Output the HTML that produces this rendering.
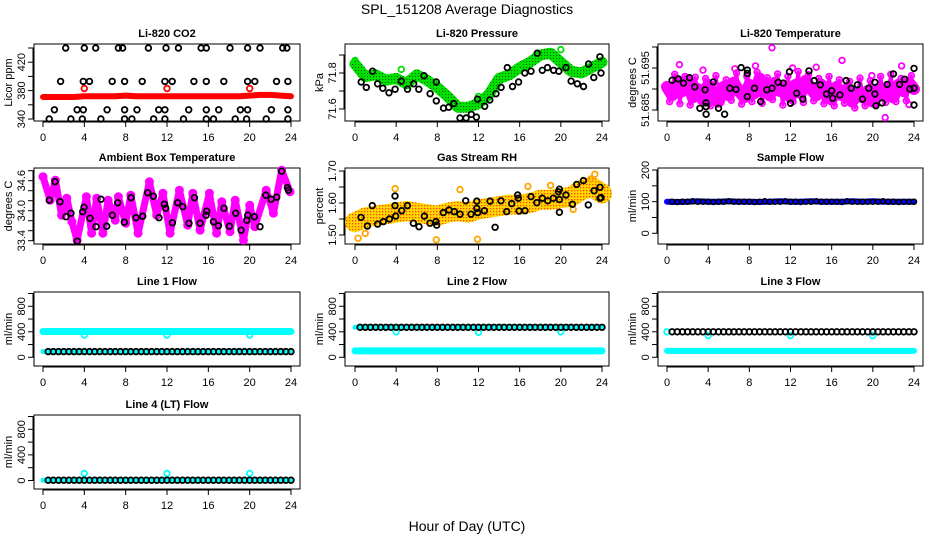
<!DOCTYPE html>
<html><head><meta charset="utf-8">
<style>
html,body{margin:0;padding:0;background:#fff;}
svg{display:block;font-family:"Liberation Sans",Arial,sans-serif;}
</style></head>
<body>
<svg id="chart" width="936" height="540" viewBox="0 0 936 540" xmlns="http://www.w3.org/2000/svg">
<defs>
<pattern id="rhpat" width="3" height="3" patternUnits="userSpaceOnUse">
<rect width="3" height="3" fill="#ffd700"/><rect x="1" y="1" width="1.3" height="1.3" fill="#ff4500"/>
</pattern>
<pattern id="grpat" width="3" height="3" patternUnits="userSpaceOnUse">
<rect width="3" height="3" fill="#00e000"/><rect x="1" y="1" width="1" height="1" fill="#006000"/>
</pattern>
</defs>
<text x="467" y="14" font-size="14" text-anchor="middle">SPL_151208  Average Diagnostics</text>
<text x="467" y="531" font-size="14" text-anchor="middle">Hour of Day (UTC)</text>
</svg>
<script>
// ---------- data ----------
const HOURS=[0,1,2,3,4,5,6,7,8,9,10,11,12,13,14,15,16,17,18,19,20,21,22,23,24];
const HALF_HOURS=[0,0.5,1,1.5,2,2.5,3,3.5,4,4.5,5,5.5,6,6.5,7,7.5,8,8.5,9,9.5,10,10.5,11,11.5,12,12.5,13,13.5,14,14.5,15,15.5,16,16.5,17,17.5,18,18.5,19,19.5,20,20.5,21,21.5,22,22.5,23,23.5,24];
const QUARTER_HOURS=[0.25,0.75,1.25,1.75,2.25,2.75,3.25,3.75,4.25,4.75,5.25,5.75,6.25,6.75,7.25,7.75,8.25,8.75,9.25,9.75,10.25,10.75,11.25,11.75,12.25,12.75,13.25,13.75,14.25,14.75,15.25,15.75,16.25,16.75,17.25,17.75,18.25,18.75,19.25,19.75,20.25,20.75,21.25,21.75,22.25,22.75,23.25,23.75];
const X_TICKS=[0,4,8,12,16,20,24];

const co2Red=[371,371,371,371,372,372,372,372,373,372,372,372,372,372,372,372,372,372,372,372,373,374,374,373,372];
const co2OutT=[4,12,20];
const co2OutV=[383,383,383];
const co2BlackT=[2.2,4.0,5.1,7.3,7.7,10.2,11.9,13.1,15.3,15.8,18.1,19.8,21.0,23.2,23.6,
 1.7,3.9,4.5,6.7,7.9,9.6,11.8,12.5,14.6,15.8,17.5,19.8,20.5,22.6,23.7,
 1.1,3.3,3.9,6.2,7.9,9.1,11.2,11.8,14.1,15.8,17.0,19.1,19.8,22.1,23.7,
 0.6,2.7,3.8,5.6,7.9,8.6,10.7,11.8,13.6,15.8,16.5,18.6,19.7,21.6,23.7];
const co2BlackV=[440,440,440,440,440,440,440,440,440,440,440,440,440,440,440,
 393,393,393,393,393,393,393,393,393,393,393,393,393,393,393,
 353,353,353,353,353,353,353,353,353,353,353,353,353,353,353,
 340,340,340,340,340,340,340,340,340,340,340,340,340,340,340];

const presGreen=[71.85,71.78,71.79,71.76,71.77,71.74,71.79,71.76,71.72,71.67,71.61,71.61,71.63,71.68,71.77,71.79,71.83,71.86,71.90,71.91,71.86,71.81,71.80,71.83,71.86];
const presBlackT=[0.6,1.1,1.7,2.2,2.7,3.3,3.9,4.5,5.1,5.7,6.2,6.7,7.3,7.9,7.9,8.6,9.1,9.6,10.2,10.8,11.3,11.8,11.9,12.6,13.1,13.7,14.2,14.8,15.3,15.9,16.5,17.1,17.7,18.2,18.7,19.3,19.8,20.5,21.0,21.6,22.2,22.7,23.2,23.8,23.9];
const presBlackV=[71.75,71.72,71.81,71.74,71.715,71.69,71.71,71.755,71.71,71.74,71.71,71.785,71.685,71.75,71.645,71.605,71.61,71.63,71.55,71.55,71.57,71.555,71.655,71.615,71.65,71.685,71.72,71.83,71.725,71.75,71.80,71.81,71.91,71.815,71.83,71.815,71.81,71.83,71.755,71.74,71.725,71.85,71.775,71.89,71.80];

const tempMag=[51.6905,51.6885,51.6915,51.6895,51.6920,51.6880,51.6900,51.6875,51.6910,51.6890,51.6870,51.6905,51.6885,51.6915,51.6895,51.6880,51.6910,51.6890,51.6925,51.6900,51.6885,51.6915,51.6895,51.6905,51.6880,51.6910,51.6890,51.6920,51.6900,51.6885,51.6910,51.6895,51.6875,51.6905,51.6885,51.6900,51.6870,51.6890,51.6880,51.6895,51.6870,51.6900,51.6885,51.6905,51.6880,51.6910,51.6895,51.6915,51.6900];
const tempMag2=[51.6870,51.6935,51.6865,51.6930,51.6862,51.6928,51.6872,51.6925,51.6860,51.6932,51.6868,51.6922,51.6873,51.6938,51.6864,51.6930,51.6870,51.6940,51.6866,51.6927,51.6875,51.6936,51.6862,51.6930,51.6870,51.6942,51.6868,51.6934,51.6872,51.6925,51.6865,51.6930,51.6860,51.6922,51.6866,51.6918,51.6855,51.6926,51.6860,51.6920,51.6864,51.6930,51.6868,51.6935,51.6870,51.6925,51.6872,51.6932];
const tempMagOutT=[1.2,3.5,6.6,8.6,10.2,12.2,14.5,17.0,19.9,21.2,22.8,23.5];
const tempMagOutV=[51.6958,51.6945,51.6948,51.6955,51.6998,51.6950,51.6952,51.6968,51.6932,51.6832,51.6955,51.6863];
const tempBlackT=[0.5,1.1,1.6,2.2,2.7,3.2,3.7,3.8,3.8,3.8,4.5,5.0,5.6,6.1,6.7,7.2,7.8,7.8,7.8,8.5,9.1,9.7,10.2,10.8,11.3,11.9,12.0,12.6,13.2,13.8,14.3,14.9,15.5,16.0,16.1,16.8,17.4,17.9,18.5,19.0,19.6,20.2,20.2,20.3,20.9,21.4,22.0,22.6,23.1,23.6,24.0,24.0,24.0];
const tempBlackV=[51.6921,51.6924,51.6914,51.6927,51.6905,51.6854,51.6898,51.6867,51.6858,51.6840,51.6917,51.6854,51.6840,51.6902,51.6899,51.6951,51.6945,51.6882,51.6937,51.6902,51.6870,51.6898,51.6902,51.6916,51.6914,51.6941,51.6866,51.6890,51.6876,51.6943,51.6920,51.6910,51.6888,51.6896,51.6878,51.6886,51.6920,51.6902,51.6910,51.6876,51.6902,51.6916,51.6888,51.6860,51.6867,51.6911,51.6936,51.6911,51.6923,51.6900,51.6949,51.6862,51.6902];

const ambMagT=[0,0.7,1.2,1.8,2.3,2.8,3.3,4.2,4.7,5.2,5.8,6.3,7.0,7.3,8.0,8.5,9.2,10.3,11.0,11.6,12.3,13.2,14.0,14.5,15.2,16.1,16.8,17.3,18.1,18.6,19.4,20.0,20.5,21.6,22.3,23.1,23.9];
const ambMagV=[34.68,34.21,34.61,33.91,34.25,33.78,33.41,34.28,33.55,34.25,33.55,34.21,33.81,34.28,33.75,34.31,33.55,34.58,33.91,34.35,33.55,34.41,33.71,34.35,33.61,34.35,33.55,34.18,33.58,34.21,33.41,34.11,33.68,34.41,33.95,34.81,34.38];
const ambBlackT=[0.61,1.16,1.65,2.23,2.71,3.32,3.84,3.97,4.55,5.13,5.61,6.16,6.71,7.23,7.87,8.52,9.0,9.65,10.13,10.68,11.23,11.74,11.87,12.52,13.04,13.52,14.13,14.65,15.2,15.78,15.84,16.49,16.97,17.52,18.04,18.65,19.17,19.72,19.82,20.46,21.0,21.56,22.07,22.62,23.1,23.65,23.75];
const ambBlackV=[34.21,34.58,34.18,33.88,33.95,33.39,33.98,34.07,33.85,33.68,34.23,33.69,33.91,34.16,33.77,34.26,33.86,33.89,34.36,34.29,33.86,34.13,34.05,33.76,34.16,34.08,33.75,34.26,33.75,33.91,33.99,33.78,33.70,34.05,33.69,33.95,33.61,33.81,33.91,33.88,33.68,34.31,34.23,34.27,34.79,34.46,34.41];

const rhBand=[1.54,1.555,1.56,1.565,1.57,1.575,1.57,1.565,1.56,1.57,1.575,1.57,1.58,1.585,1.59,1.595,1.595,1.60,1.61,1.61,1.615,1.62,1.64,1.65,1.63];
const rhOutT=[0.3,1.0,3.9,7.9,11.9,10.2,16.8,22.9,23.3,21.2,19.0];
const rhOutV=[1.49,1.505,1.645,1.485,1.487,1.642,1.652,1.675,1.69,1.58,1.655];
const rhBlackT=[0.58,1.2,1.68,2.2,2.75,3.34,3.89,3.89,3.95,4.54,5.09,5.67,6.22,6.74,7.29,7.87,7.94,8.58,9.13,9.65,10.2,10.76,11.27,11.83,11.83,11.92,12.57,13.12,13.61,14.19,14.74,15.23,15.81,15.87,15.94,16.52,17.1,17.66,18.2,18.73,19.27,19.76,19.86,19.86,19.86,20.5,21.12,21.54,22.19,22.67,23.23,23.81,23.81,23.91];
const rhBlackV=[1.555,1.528,1.592,1.534,1.542,1.55,1.622,1.592,1.559,1.576,1.592,1.537,1.526,1.559,1.537,1.542,1.531,1.57,1.578,1.573,1.565,1.607,1.565,1.606,1.583,1.57,1.576,1.606,1.524,1.607,1.573,1.598,1.625,1.615,1.575,1.576,1.62,1.601,1.615,1.607,1.615,1.635,1.643,1.611,1.571,1.625,1.596,1.658,1.67,1.594,1.638,1.649,1.615,1.617];

const sampleBlue=[100,99,100,101,100,100,101,100,100,99,100,101,100,100,101,100,100,100,101,100,101,100,100,100,100];
const sampleBlack=[100,100,99,100,100,101,100,100,100,99,100,100,101,100,100,100,100,99,100,101,100,100,100,101,100,100,99,100,100,101,100,100,100,100,99,101,100,100,100,100,100,100,101,100,100,99,100,100,100];

const l1Cyan=[405,405,405,405,405,405,405,405,405,405,405,405,405,405,405,405,405,405,405,405,405,405,405,405,405];
const l1Black=[90,90,90,90,90,90,90,90,90,90,90,90,90,90,90,90,90,90,90,90,90,90,90,90,90,90,90,90,90,90,90,90,90,90,90,90,90,90,90,90,90,90,90,90,90,90,90,90,90];
const l1CyanLow=[90,90,90,90,90,90,90,90,90,90,90,90,90,90,90,90,90,90,90,90,90,90,90,90,90];
const l1OutV=[350,350,350];

const l2Cyan=[470,470,470,470,470,470,470,470,470,470,470,470,470,470,470,470,470,470,470,470,470,470,470,470,470];
const l2CyanLow=[100,100,100,100,100,100,100,100,100,100,100,100,100,100,100,100,100,100,100,100,100,100,100,100,100];
const l2Black=[470,470,470,470,470,470,470,470,470,470,470,470,470,470,470,470,470,470,470,470,470,470,470,470,470,470,470,470,470,470,470,470,470,470,470,470,470,470,470,470,470,470,470,470,470,470,470,470,470];
const l2OutV=[400,390,400];

const l3CyanLow=[100,100,100,100,100,100,100,100,100,100,100,100,100,100,100,100,100,100,100,100,100,100,100,100,100];
const l3Black=[400,400,400,400,400,400,400,400,400,400,400,400,400,400,400,400,400,400,400,400,400,400,400,400,400,400,400,400,400,400,400,400,400,400,400,400,400,400,400,400,400,400,400,400,400,400,400,400,400];
const l3OutV=[340,340,340];

const l4Black=[5,5,5,5,5,5,5,5,5,5,5,5,5,5,5,5,5,5,5,5,5,5,5,5,5,5,5,5,5,5,5,5,5,5,5,5,5,5,5,5,5,5,5,5,5,5,5,5,5];
const l4OutV=[110,110,110];
const OUT_T=[4,12,20];

// ---------- layout ----------
const NS='http://www.w3.org/2000/svg';
const svg=document.getElementById('chart');
function el(tag,attrs,parent){const e=document.createElementNS(NS,tag);for(const k in attrs)e.setAttribute(k,attrs[k]);(parent||svg).appendChild(e);return e;}

const COLS=[{l:34,r:300,x0:43,x24:291},{l:345,r:609,x0:355,x24:602},{l:658,r:923,x0:667,x24:914}];
const ROWS=[{t:44,b:121},{t:168,b:244},{t:292,b:366},{t:415,b:489}];

function makePanel(name,c,r,title,ylab,ref,ticks,labels){
  const C=COLS[c],R=ROWS[r];
  const g=el('g',{});
  
  
  const p={g:g,C:C,R:R,
    x:t=>C.x0+(t/24)*(C.x24-C.x0),
    y:v=>ref[1]+(v-ref[0])/(ref[2]-ref[0])*(ref[3]-ref[1])};
  const box=el('rect',{x:C.l,y:R.t,width:C.r-C.l,height:R.b-R.t,fill:'none',stroke:'#000','stroke-width':1},g);
  
  
  const tt=el('text',{x:(C.l+C.r)/2,y:R.t-7,'font-size':11,'font-weight':'bold','text-anchor':'middle'},g);
  tt.textContent=title;
  
  
  const xa=el('g',{},g);
  
  
  el('line',{x1:p.x(0),x2:p.x(24),y1:R.b+1,y2:R.b+1,stroke:'#000'},xa);
  X_TICKS.forEach(t=>{
    el('line',{x1:p.x(t),x2:p.x(t),y1:R.b,y2:R.b+6,stroke:'#000'},xa);
    const lt=el('text',{x:p.x(t),y:R.b+20,'font-size':11,'text-anchor':'middle'},xa);
    lt.textContent=String(t);
    
    
  });
  const ya=el('g',{},g);
  
  
  el('line',{x1:C.l-1,x2:C.l-1,y1:p.y(ticks[0]),y2:p.y(ticks[ticks.length-1]),stroke:'#000'},ya);
  ticks.forEach(v=>{el('line',{x1:C.l-6,x2:C.l,y1:p.y(v),y2:p.y(v),stroke:'#000'},ya);});
  labels.forEach(lb=>{
    const yy=p.y(parseFloat(lb));
    const lt=el('text',{x:C.l-9,y:yy,'font-size':11,'text-anchor':'middle',transform:'rotate(-90 '+(C.l-9)+' '+yy+')'},ya);
    lt.textContent=lb;
    
    
  });
  const yl=el('text',{x:C.l-22,y:(R.t+R.b)/2,'font-size':11,'text-anchor':'middle',transform:'rotate(-90 '+(C.l-22)+' '+((R.t+R.b)/2)+')'},g);
  yl.textContent=ylab;
  
  
  return p;
}
function band(p,ts,vs,color,w,name){
  const pts=ts.map((t,i)=>p.x(t).toFixed(1)+','+p.y(vs[i]).toFixed(1)).join(' ');
  const pl=el('polyline',{points:pts,fill:'none',stroke:color,'stroke-width':w,'stroke-linejoin':'round','stroke-linecap':'round'},p.g);
  
  
}
function pts(p,ts,vs,color,name,r,sw){
  const g=el('g',{},p.g);
  
  
  ts.forEach((t,i)=>{
    const c=el('circle',{cx:p.x(t).toFixed(1),cy:p.y(vs[i]).toFixed(1),r:r||2.8,fill:'none',stroke:color,'stroke-width':sw||1.8},g);
    
    
  });
}
const BLK='#000',CY='#00ffff',MG='#ff00ff';

let p=makePanel('li820-co2',0,0,'Li-820 CO2','Licor ppm',[340,119,440,48],[340,360,380,400,420,440],['340','380','420']);
band(p,HOURS,co2Red,'#ff0000',6,'co2-red-band');
pts(p,co2OutT,co2OutV,'#ff0000','co2-red-outliers');
pts(p,co2BlackT,co2BlackV,BLK,'co2-black-points');

p=makePanel('li820-pressure',1,0,'Li-820 Pressure','kPa',[71.6,109,71.9,55],[71.6,71.7,71.8,71.9],['71.6','71.8']);
band(p,HOURS,presGreen,'url(#grpat)',11,'pressure-green-band');
pts(p,[0,4.5,8,12,16,20],[71.87,71.82,71.72,71.67,71.83,71.93],'#00e000','pressure-green-points');
pts(p,presBlackT,presBlackV,BLK,'pressure-black-points');

p=makePanel('li820-temperature',2,0,'Li-820 Temperature','degrees C',[51.685,110,51.695,68],[51.685,51.69,51.695,51.7],['51.685','51.695']);
band(p,HALF_HOURS,tempMag,MG,12,'temperature-magenta-band');
band(p,QUARTER_HOURS,tempMag2,MG,3,'temperature-magenta-band-2');
pts(p,HALF_HOURS,tempMag,MG,'temperature-magenta-points');
pts(p,QUARTER_HOURS,tempMag2,MG,'temperature-magenta-points-2');
pts(p,tempMagOutT,tempMagOutV,MG,'temperature-magenta-outliers');
pts(p,tempBlackT,tempBlackV,BLK,'temperature-black-points');

p=makePanel('ambient-box-temperature',0,1,'Ambient Box Temperature','degrees C',[33.4,240.7,34.8,170.7],[33.4,33.6,33.8,34.0,34.2,34.4,34.6,34.8],['33.4','34.0','34.6']);
band(p,ambMagT,ambMagV,MG,7,'ambient-magenta-band');
pts(p,ambMagT,ambMagV,MG,'ambient-magenta-points',3.5,2);
pts(p,ambBlackT,ambBlackV,BLK,'ambient-black-points');

p=makePanel('gas-stream-rh',1,1,'Gas Stream RH','percent',[1.5,235,1.7,171],[1.5,1.55,1.6,1.65,1.7],['1.50','1.60','1.70']);
band(p,HOURS,rhBand,'url(#rhpat)',20,'rh-orange-band');
pts(p,rhOutT,rhOutV,'#ffa500','rh-orange-outliers');
pts(p,rhBlackT,rhBlackV,BLK,'rh-black-points');

p=makePanel('sample-flow',2,1,'Sample Flow','ml/min',[0,233.3,200,170],[0,50,100,150,200],['0','100','200']);
band(p,HOURS,sampleBlue,'#0000ff',6,'sample-blue-band');
pts(p,HALF_HOURS.slice(1),sampleBlack.slice(1),BLK,'sample-black-points',2.5,1.5);

const FT=[0,200,400,600,800,1000],FL=['0','400','800'];
p=makePanel('line1-flow',0,2,'Line 1 Flow','ml/min',[0,357.3,1000,293.5],FT,FL);
band(p,HOURS,l1Cyan,CY,7,'line1-cyan-band');
band(p,HOURS,l1CyanLow,CY,5,'line1-cyan-low-band');
pts(p,OUT_T,l1OutV,CY,'line1-cyan-outliers');
pts(p,HALF_HOURS.slice(1),l1Black.slice(1),BLK,'line1-black-points');

p=makePanel('line2-flow',1,2,'Line 2 Flow','ml/min',[0,357.3,1000,293.5],FT,FL);
band(p,HOURS,l2Cyan,CY,5,'line2-cyan-band');
band(p,HOURS,l2CyanLow,CY,7,'line2-cyan-low-band');
pts(p,OUT_T,l2OutV,CY,'line2-cyan-outliers');
pts(p,HALF_HOURS.slice(1),l2Black.slice(1),BLK,'line2-black-points');

p=makePanel('line3-flow',2,2,'Line 3 Flow','ml/min',[0,357.3,1000,293.5],FT,FL);
band(p,HOURS,l3CyanLow,CY,6,'line3-cyan-low-band');
pts(p,[0],[400],CY,'line3-cyan-start');
pts(p,OUT_T,l3OutV,CY,'line3-cyan-outliers');
pts(p,HALF_HOURS.slice(1),l3Black.slice(1),BLK,'line3-black-points');

p=makePanel('line4-flow',0,3,'Line 4 (LT) Flow','ml/min',[0,480.5,1000,416.5],FT,FL);
band(p,HOURS,l4Black.slice(0,25),CY,5,'line4-cyan-band');
pts(p,OUT_T,l4OutV,CY,'line4-cyan-outliers');
pts(p,HALF_HOURS.slice(1),l4Black.slice(1),BLK,'line4-black-points');
</script>
</body></html>
